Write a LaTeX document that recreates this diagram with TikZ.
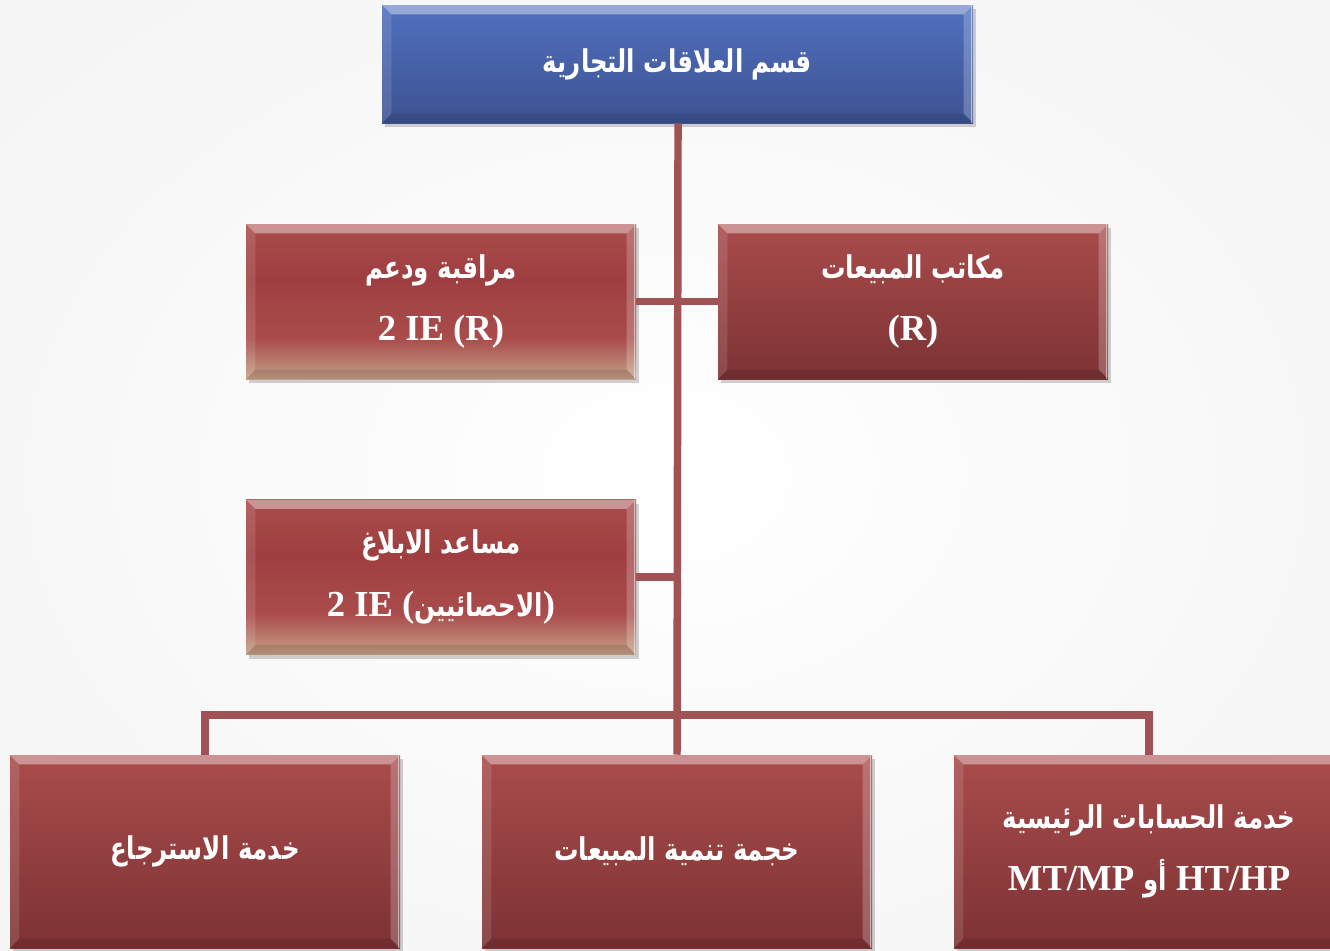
\documentclass[tikz,border=0pt]{standalone}
\usepackage{fontspec}
\setmainfont{Liberation Serif}
\newfontfamily\arabicfont[Script=Arabic,FakeStretch=0.78]{DejaVu Sans}
\TeXXeTstate=1
\usetikzlibrary{shadows}

% Arabic run, set right to left
\newcommand{\artext}[1]{{\arabicfont\bfseries\fontsize{23.5}{47}\selectfont\beginR #1\endR}}

\definecolor{blueT}{RGB}{80,112,190}
\definecolor{blueB}{RGB}{61,82,146}
\definecolor{redT}{RGB}{170,76,76}
\definecolor{redM}{RGB}{158,62,64}
\definecolor{redB}{RGB}{124,50,52}
\definecolor{tanC}{RGB}{196,160,134}
\definecolor{linkC}{RGB}{160,82,85}

% vertical shadings: 25bp = bottom of the shape, 75bp = top
\pgfdeclareverticalshading{redtan}{100bp}{color(0bp)=(tanC); color(25bp)=(tanC); color(38bp)=(redT); color(57bp)=(redM); color(75bp)=(redT); color(100bp)=(redT)}
\pgfdeclareverticalshading{reddark}{100bp}{color(0bp)=(redB); color(25bp)=(redB); color(75bp)=(redT); color(100bp)=(redT)}
\pgfdeclareverticalshading{bluebox}{100bp}{color(0bp)=(blueB); color(25bp)=(blueB); color(75bp)=(blueT); color(100bp)=(blueT)}

\tikzset{
  bevel/.style={path picture={
    \coordinate (nw) at (path picture bounding box.north west);
    \coordinate (ne) at (path picture bounding box.north east);
    \coordinate (sw) at (path picture bounding box.south west);
    \coordinate (se) at (path picture bounding box.south east);
    \fill[white,opacity=.4] (nw) -- (ne) -- ([shift={(-7pt,-7pt)}]ne) -- ([shift={(7pt,-7pt)}]nw) -- cycle;
    \fill[white,opacity=.12] (nw) -- ([shift={(7pt,-7pt)}]nw) -- ([shift={(7pt,7pt)}]sw) -- (sw) -- cycle;
    \fill[white,opacity=.22] (ne) -- ([shift={(-7pt,-7pt)}]ne) -- ([shift={(-7pt,7pt)}]se) -- (se) -- cycle;
    \fill[black,opacity=.10] (sw) -- ([shift={(7pt,7pt)}]sw) -- ([shift={(-7pt,7pt)}]se) -- (se) -- cycle;
    \draw[white,opacity=.5,line width=1pt] ([xshift=-1pt]ne) -- ([xshift=-1pt]se);
  }},
  orgbox/.style={rectangle, inner sep=0pt, text=white, align=center,
    minimum width=292.5pt, minimum height=116.25pt,
    font=\fontsize{27.5}{47}\selectfont\bfseries, bevel,
    drop shadow={shadow xshift=2pt, shadow yshift=-3pt, opacity=.3, fill=black!60}},
  softbox/.style={orgbox, shading=redtan},
  darkbox/.style={orgbox, shading=reddark},
  headbox/.style={orgbox, shading=bluebox, minimum width=443.25pt, minimum height=88.5pt},
  basebox/.style={darkbox, minimum height=144.75pt},
  conn/.style={draw=linkC, line width=5.6pt}
}

\begin{document}
\begin{tikzpicture}[x=0.75pt,y=-0.75pt]
  \clip (0,0) rectangle (1330,950);
  \shade[inner color=white, outer color=black!4] (-200,-150) rectangle (1530,1100);

  % boxes
  \node[headbox] (head) at (677.5,64) {\artext{قسم العلاقات التجارية}};
  \node[softbox] (watch) at (441,301.5) {\artext{مراقبة ودعم}\\2 IE (R)};
  \node[darkbox] (offices) at (913,301.5) {\artext{مكاتب المبيعات}\\(R)};
  \node[softbox] (report) at (441,577) {\artext{مساعد الابلاغ}\\2 IE (\artext{الاحصائيين})};
  \node[basebox] (returns) at (205,851.5) {\artext{خدمة الاسترجاع}};
  \node[basebox] (growth) at (677,851.5) {\artext{خجمة تنمية المبيعات}};
  \node[basebox] (accounts) at (1149,851.5) {\artext{خدمة الحسابات الرئيسية}\\MT/MP \artext{أو} HT/HP};

  % links
  \coordinate (bus) at (677,715);
  \draw[conn] ([xshift=0.4pt]head.south) -- (growth.north);
  \draw[conn] (watch.east) -- (offices.west);
  \draw[conn] (report.east) -- (report.east -| growth.north);
  \draw[conn] (returns.north) |- (bus) -| (accounts.north);
\end{tikzpicture}
\end{document}
